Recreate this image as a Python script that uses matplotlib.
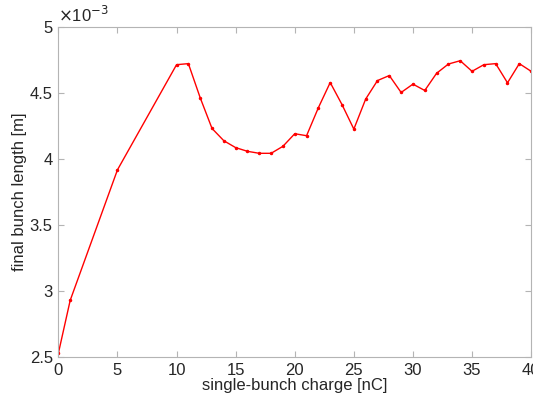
import numpy as np
import matplotlib.pyplot as plt
from matplotlib.ticker import FuncFormatter

# single-bunch charge [nC] and final bunch length [1e-3 m]
charge = [0, 1, 5, 10, 11, 12, 13, 14, 15, 16, 17, 18, 19, 20, 21, 22, 23, 24,
          25, 26, 27, 28, 29, 30, 31, 32, 33, 34, 35, 36, 37, 38, 39, 40]
length_mm = [2.53, 2.93, 3.917, 4.712, 4.72, 4.462, 4.23, 4.137, 4.085, 4.057,
             4.042, 4.042, 4.095, 4.19, 4.175, 4.387, 4.577, 4.41, 4.225, 4.452,
             4.592, 4.63, 4.502, 4.565, 4.517, 4.647, 4.717, 4.742, 4.662, 4.712,
             4.72, 4.575, 4.72, 4.662]
xticks = [0, 5, 10, 15, 20, 25, 30, 35, 40]
yticks = [2.5, 3, 3.5, 4, 4.5, 5]

length = np.array(length_mm) * 1e-3

plt.rcParams['font.family'] = ['Liberation Sans', 'DejaVu Sans']
txt = '#262626'

fig = plt.figure(figsize=(5.33, 4.03), dpi=100)
ax = fig.add_axes([0.1095, 0.1135, 0.887, 0.8205])

ax.plot(charge, length, color='red', linewidth=1.0, marker='.', markersize=3)

ax.set_xlim(0, 40)
ax.set_ylim(2.5e-3, 5e-3)
ax.set_xticks(xticks)
ax.set_yticks([v * 1e-3 for v in yticks])
ax.yaxis.set_major_formatter(FuncFormatter(lambda v, p: '%g' % round(v * 1e3, 3)))

for s in ax.spines.values():
    s.set_color('#b4b4b4')
    s.set_linewidth(0.8)
ax.tick_params(direction='in', length=4, width=0.8, color='#b4b4b4',
               labelcolor=txt, labelsize=12, top=True, right=True,
               labeltop=False, labelright=False)
ax.tick_params(axis='x', pad=4)
ax.tick_params(axis='y', pad=4)

ax.set_xlabel('single-bunch charge [nC]', fontsize=12, color=txt, labelpad=0)
ax.set_ylabel('final bunch length [m]', fontsize=12, color=txt, labelpad=2)
ax.text(0.0, 1.005, r'$\times$10$^{-3}$', transform=ax.transAxes, fontsize=12,
        color=txt, ha='left', va='bottom')

fig.savefig('out.png', dpi=100)
